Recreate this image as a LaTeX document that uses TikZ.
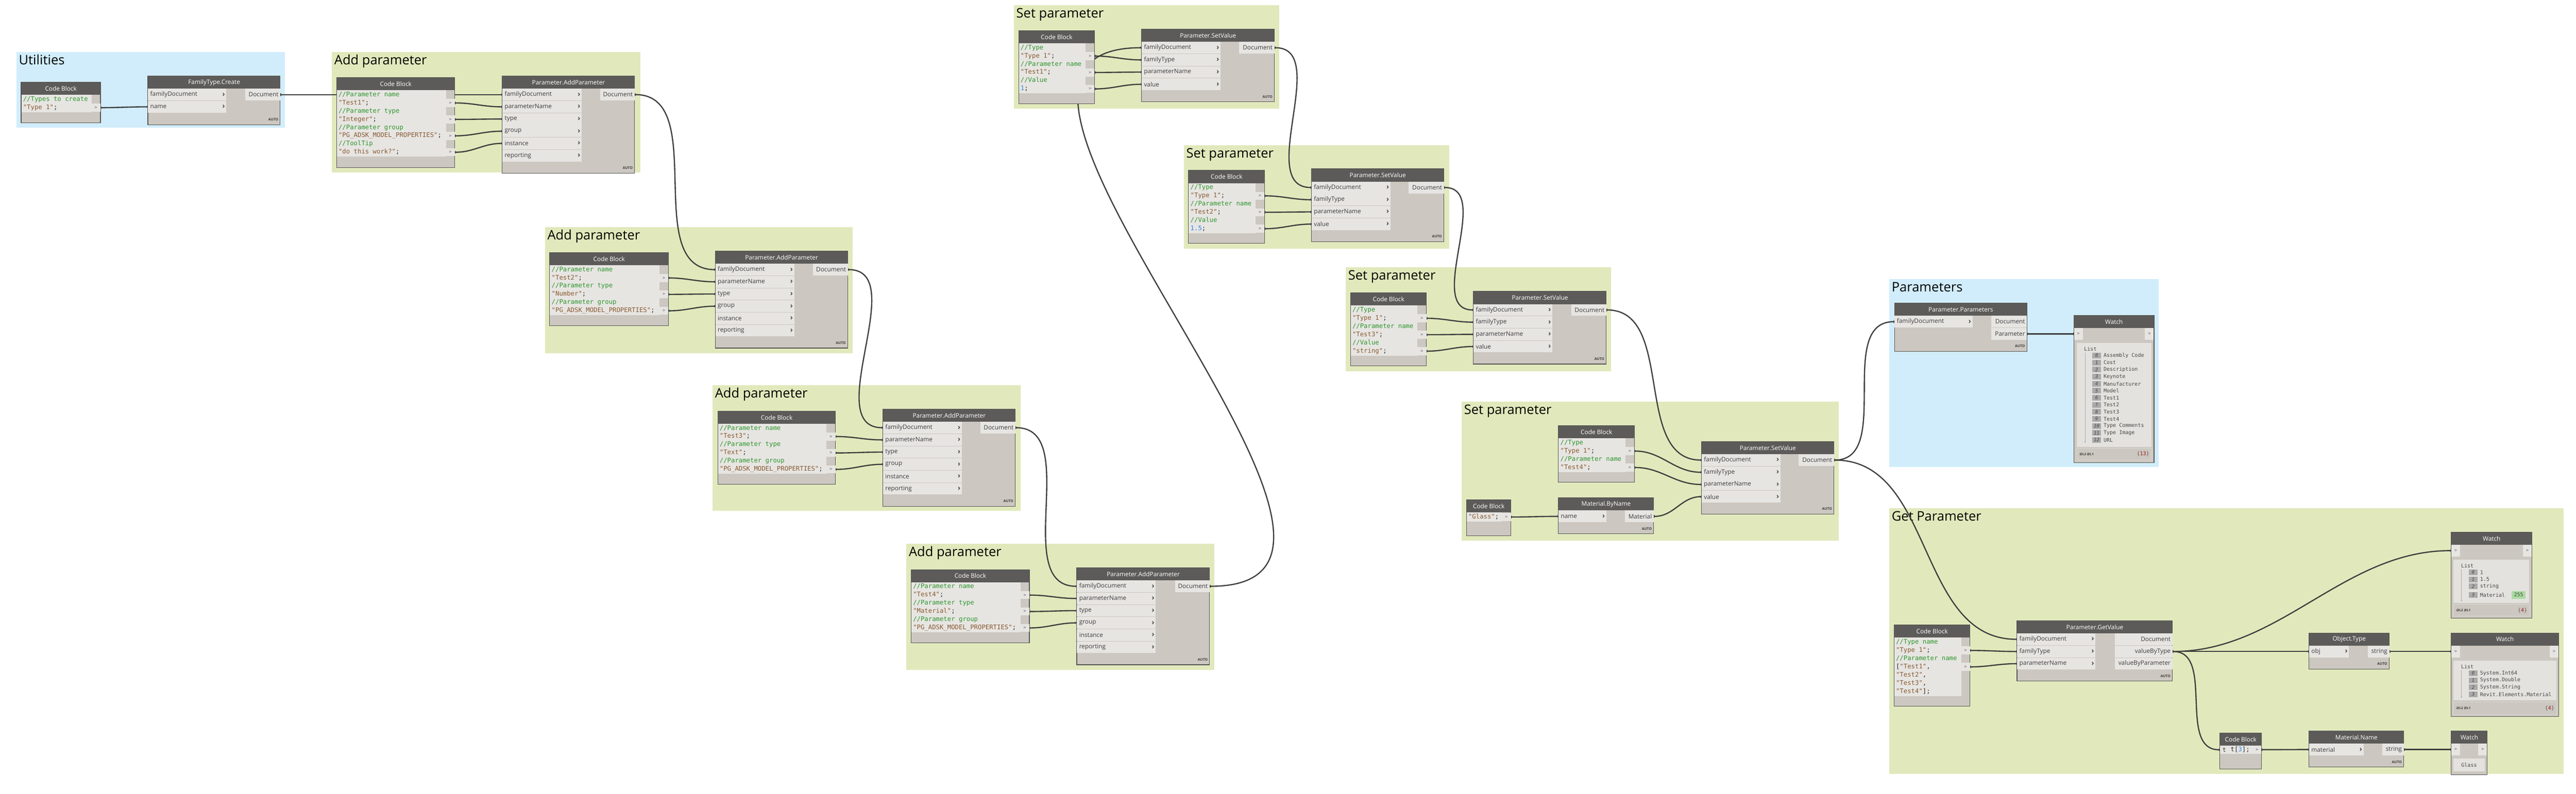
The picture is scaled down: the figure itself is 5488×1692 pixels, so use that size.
\documentclass[tikz,border=0pt]{standalone}
\usepackage{fontspec}
\setmainfont{Open Sans}
\setmonofont{DejaVu Sans Mono}
\usetikzlibrary{arrows.meta}

\definecolor{grpgreen}{RGB}{225,233,188}
\definecolor{grpblue}{RGB}{209,237,252}
\definecolor{headc}{RGB}{93,91,89}
\definecolor{bodyc}{RGB}{204,199,192}
\definecolor{rowc}{RGB}{231,229,226}
\definecolor{edgec}{RGB}{85,85,85}
\definecolor{wirec}{RGB}{62,62,62}
\definecolor{labelc}{RGB}{60,60,60}
\definecolor{chevc}{RGB}{70,70,70}
\definecolor{portc}{RGB}{90,90,90}
\definecolor{punctc}{RGB}{40,40,40}
\definecolor{cmtc}{RGB}{45,150,45}
\definecolor{strc}{RGB}{135,90,50}
\definecolor{numc}{RGB}{45,135,230}
\definecolor{panelc}{RGB}{228,226,222}
\definecolor{footc}{RGB}{204,199,192}
\definecolor{footline}{RGB}{218,215,210}
\definecolor{listc}{RGB}{70,70,70}
\definecolor{idxc}{RGB}{170,170,170}
\definecolor{cntred}{RGB}{170,20,20}
\definecolor{matgreen}{RGB}{170,220,160}

\pgfdeclarelayer{groups}
\pgfdeclarelayer{wires}
\pgfsetlayers{groups,wires,main}

\tikzstyle{groupgreen}=[fill=grpgreen]
\tikzstyle{groupblue}=[fill=grpblue]
\tikzstyle{grouptitle}=[anchor=base west,inner sep=0pt,text=black,font=\fontsize{28}{32}\selectfont]
\tikzstyle{nodehead}=[rectangle,fill=headc,text=white,anchor=north west,minimum height=27pt,inner sep=0pt,font=\fontsize{13}{15}\selectfont]
\tikzstyle{nodeedge}=[draw=edgec,line width=1.2pt]
\tikzstyle{inrow}=[rectangle,fill=rowc,anchor=north west,minimum height=25pt,inner sep=0pt]
\tikzstyle{outrow}=[rectangle,fill=rowc,anchor=north west,minimum height=25pt,inner sep=0pt]
\tikzstyle{inlbl}=[anchor=west,inner sep=5pt,text=labelc,font=\fontsize{13}{15}\selectfont]
\tikzstyle{outlbl}=[anchor=east,inner sep=4pt,text=labelc,font=\fontsize{13}{15}\selectfont]
\tikzstyle{chev}=[anchor=east,inner sep=3pt,text=chevc,font=\bfseries\fontsize{15}{16}\selectfont]
\tikzstyle{autotag}=[anchor=east,inner sep=0pt,text=labelc,font=\bfseries\fontsize{7.5}{8}\selectfont]
\tikzstyle{codetext}=[anchor=west,inner sep=0pt,text height=10pt,text depth=3pt,text=punctc,font=\ttfamily\fontsize{13.5}{16}\selectfont]
\tikzstyle{cport}=[rectangle,fill=rowc,anchor=east,minimum width=19pt,minimum height=17pt,inner sep=0pt,text=portc,font=\ttfamily\fontsize{9}{10}\selectfont]
\tikzstyle{wport}=[rectangle,fill=rowc,minimum width=19pt,minimum height=25pt,inner sep=0pt,text=portc,font=\ttfamily\fontsize{9}{10}\selectfont]
\tikzstyle{wpanel}=[rectangle,fill=panelc,anchor=north west,inner sep=0pt]
\tikzstyle{wfoot}=[rectangle,fill=footc,draw=footline,line width=1pt,anchor=north west,minimum height=25pt,inner sep=0pt]
\tikzstyle{listhead}=[anchor=west,inner sep=0pt,text=listc,font=\ttfamily\fontsize{11}{12}\selectfont]
\tikzstyle{listline}=[draw=idxc,line width=0.8pt]
\tikzstyle{idxbox}=[rectangle,fill=idxc,anchor=west,minimum width=19pt,minimum height=12pt,inner sep=0pt,text=listc,font=\ttfamily\itshape\fontsize{10}{11}\selectfont]
\tikzstyle{listtext}=[anchor=west,inner sep=0pt,text=listc,font=\ttfamily\fontsize{11}{12}\selectfont]
\tikzstyle{levels}=[anchor=west,inner sep=0pt,text=labelc,font=\bfseries\fontsize{7}{8}\selectfont]
\tikzstyle{counttag}=[anchor=east,inner sep=0pt,text=portc,font=\ttfamily\fontsize{11}{12}\selectfont]
\tikzstyle{matbox}=[rectangle,fill=matgreen,anchor=west,minimum width=29pt,minimum height=16pt,inner sep=0pt,text=listc,font=\ttfamily\fontsize{11}{12}\selectfont]
\tikzstyle{wire}=[draw=wirec,line width=2.6pt,out=0,in=180,{Circle[length=6pt]}-{Circle[length=6pt]},shorten <=-3pt,shorten >=-3pt]

\newcommand{\ccmt}[1]{\textcolor{cmtc}{#1}}
\newcommand{\cstr}[1]{\textcolor{strc}{#1}}
\newcommand{\cnum}[1]{\textcolor{numc}{#1}}

% name, x, y, width, height, title
\newcommand{\funcnode}[6]{%
  \fill[bodyc] (#2,#3) rectangle ++(#4,#5);
  \node[nodehead,minimum width=#4pt] (#1) at (#2,#3) {#6};
  \node[autotag] (#1auto) at (#2+#4-4,#3+#5-11) {AUTO};
  \draw[nodeedge] (#2,#3) rectangle ++(#4,#5);
}
% name, x, y, width, height, lines
\newcommand{\codenode}[6]{%
  \fill[bodyc] (#2,#3) rectangle ++(#4,#5);
  \fill[rowc] (#2,#3+27) rectangle ++(#4-19,#6*17.5+2);
  \node[nodehead,minimum width=#4pt] (#1) at (#2,#3) {Code Block};
  \draw[nodeedge] (#2,#3) rectangle ++(#4,#5);
}
% name, x, y, width, height
\newcommand{\watchnode}[5]{%
  \fill[bodyc] (#2,#3) rectangle ++(#4,#5);
  \node[nodehead,minimum width=#4pt] (#1) at (#2,#3) {Watch};
  \node[wport,anchor=north west] (#1in) at (#2,#3+27) {>};
  \node[wport,anchor=north east] (#1out) at (#2+#4,#3+27) {>};
  \draw[nodeedge] (#2,#3) rectangle ++(#4,#5);
}
\newcommand{\inport}[5]{%
  \node[inrow,minimum width=#4pt,label={[inlbl]west:#5},label={[chev]east:›}] (#1) at (#2,#3) {};
}
\newcommand{\outport}[5]{%
  \node[outrow,minimum width=#4pt,label={[outlbl]east:#5}] (#1) at (#2,#3) {};
}
\newcommand{\watchitem}[5]{%
  \node[idxbox] (#1) at (#2,#3) {#4};
  \node[listtext] (#1t) at ([xshift=5pt]#1.east) {#5};
}

\begin{document}
\begin{tikzpicture}[x=1pt,y=-1pt]
\useasboundingbox (0,0) rectangle (5488,1692);

\begin{pgfonlayer}{groups}
\fill[groupblue] (35,111) rectangle (607,272);
\node[grouptitle] (utiltitle) at (40,138) {Utilities};
\fill[groupgreen] (707,111) rectangle (1364,368);
\node[grouptitle] (addtitle1) at (712,138) {Add parameter};
\fill[groupgreen] (1161,484) rectangle (1816,753);
\node[grouptitle] (addtitle2) at (1166,511) {Add parameter};
\fill[groupgreen] (1518,821) rectangle (2174,1089);
\node[grouptitle] (addtitle3) at (1523,848) {Add parameter};
\fill[groupgreen] (1931,1159) rectangle (2587,1428);
\node[grouptitle] (addtitle4) at (1936,1186) {Add parameter};
\fill[groupgreen] (2160,11) rectangle (2725,232);
\node[grouptitle] (settitle1) at (2165,38) {Set parameter};
\fill[groupgreen] (2522,309) rectangle (3087,530);
\node[grouptitle] (settitle2) at (2527,336) {Set parameter};
\fill[groupgreen] (2867,570) rectangle (3432,791);
\node[grouptitle] (settitle3) at (2872,597) {Set parameter};
\fill[groupgreen] (3114,856) rectangle (3917,1153);
\node[grouptitle] (settitle4) at (3119,883) {Set parameter};
\fill[groupblue] (4025,595) rectangle (4599,996);
\node[grouptitle] (partitle) at (4030,622) {Parameters};
\fill[groupgreen] (4025,1083) rectangle (5462,1650);
\node[grouptitle] (gettitle) at (4030,1110) {Get Parameter};
\end{pgfonlayer}

% Utilities
\codenode{cb1}{45}{175}{169}{87}{2}
\node[codetext] (cb1t1) at (49,212) {\ccmt{//Types to create}};
\node[codetext] (cb1t2) at (49,229.5) {\cstr{"Type 1"};};
\node[cport] (cb1p1) at (214,229.5) {>};

\funcnode{ft}{315}{162}{282}{104}{FamilyType.Create}
\inport{ftfd}{315}{189}{167}{familyDocument}
\inport{ftname}{315}{215}{167}{name}
\outport{ftdoc}{522}{189}{75}{Document}

% Add parameter 1
\codenode{cb2}{717}{165}{252}{192}{8}
\node[codetext] (cb2t1) at (721,202) {\ccmt{//Parameter name}};
\node[codetext] (cb2t2) at (721,219.5) {\cstr{"Test1"};};
\node[codetext] (cb2t3) at (721,237) {\ccmt{//Parameter type}};
\node[codetext] (cb2t4) at (721,254.5) {\cstr{"Integer"};};
\node[codetext] (cb2t5) at (721,272) {\ccmt{//Parameter group}};
\node[codetext] (cb2t6) at (721,289.5) {\cstr{"PG\_ADSK\_MODEL\_PROPERTIES"};};
\node[codetext] (cb2t7) at (721,307) {\ccmt{//ToolTip}};
\node[codetext] (cb2t8) at (721,324.5) {\cstr{"do this work?"};};
\node[cport] (cb2p1) at (969,219.5) {>};
\node[cport] (cb2p2) at (969,254.5) {>};
\node[cport] (cb2p3) at (969,289.5) {>};
\node[cport] (cb2p4) at (969,324.5) {>};

\funcnode{ap1}{1070}{162}{282}{207}{Parameter.AddParameter}
\inport{ap1fd}{1070}{189}{169}{familyDocument}
\inport{ap1pn}{1070}{215}{169}{parameterName}
\inport{ap1ty}{1070}{241}{169}{type}
\inport{ap1gr}{1070}{267}{169}{group}
\inport{ap1in}{1070}{293}{169}{instance}
\inport{ap1re}{1070}{319}{169}{reporting}
\outport{ap1doc}{1278}{189}{74}{Document}

% Add parameter 2
\codenode{cb3}{1171}{538}{253}{156}{6}
\node[codetext] (cb3t1) at (1175,575) {\ccmt{//Parameter name}};
\node[codetext] (cb3t2) at (1175,592.5) {\cstr{"Test2"};};
\node[codetext] (cb3t3) at (1175,610) {\ccmt{//Parameter type}};
\node[codetext] (cb3t4) at (1175,627.5) {\cstr{"Number"};};
\node[codetext] (cb3t5) at (1175,645) {\ccmt{//Parameter group}};
\node[codetext] (cb3t6) at (1175,662.5) {\cstr{"PG\_ADSK\_MODEL\_PROPERTIES"};};
\node[cport] (cb3p1) at (1424,592.5) {>};
\node[cport] (cb3p2) at (1424,627.5) {>};
\node[cport] (cb3p3) at (1424,662.5) {>};

\funcnode{ap2}{1524}{535}{282}{207}{Parameter.AddParameter}
\inport{ap2fd}{1524}{562}{168}{familyDocument}
\inport{ap2pn}{1524}{588}{168}{parameterName}
\inport{ap2ty}{1524}{614}{168}{type}
\inport{ap2gr}{1524}{640}{168}{group}
\inport{ap2in}{1524}{666}{168}{instance}
\inport{ap2re}{1524}{692}{168}{reporting}
\outport{ap2doc}{1732}{562}{74}{Document}

% Add parameter 3
\codenode{cb4}{1529}{876}{251}{156}{6}
\node[codetext] (cb4t1) at (1533,913) {\ccmt{//Parameter name}};
\node[codetext] (cb4t2) at (1533,930.5) {\cstr{"Test3"};};
\node[codetext] (cb4t3) at (1533,948) {\ccmt{//Parameter type}};
\node[codetext] (cb4t4) at (1533,965.5) {\cstr{"Text"};};
\node[codetext] (cb4t5) at (1533,983) {\ccmt{//Parameter group}};
\node[codetext] (cb4t6) at (1533,1000.5) {\cstr{"PG\_ADSK\_MODEL\_PROPERTIES"};};
\node[cport] (cb4p1) at (1780,930.5) {>};
\node[cport] (cb4p2) at (1780,965.5) {>};
\node[cport] (cb4p3) at (1780,1000.5) {>};

\funcnode{ap3}{1881}{872}{282}{207}{Parameter.AddParameter}
\inport{ap3fd}{1881}{899}{168}{familyDocument}
\inport{ap3pn}{1881}{925}{168}{parameterName}
\inport{ap3ty}{1881}{951}{168}{type}
\inport{ap3gr}{1881}{977}{168}{group}
\inport{ap3in}{1881}{1003}{168}{instance}
\inport{ap3re}{1881}{1029}{168}{reporting}
\outport{ap3doc}{2089}{899}{74}{Document}

% Add parameter 4
\codenode{cb5}{1941}{1214}{252}{156}{6}
\node[codetext] (cb5t1) at (1945,1251) {\ccmt{//Parameter name}};
\node[codetext] (cb5t2) at (1945,1268.5) {\cstr{"Test4"};};
\node[codetext] (cb5t3) at (1945,1286) {\ccmt{//Parameter type}};
\node[codetext] (cb5t4) at (1945,1303.5) {\cstr{"Material"};};
\node[codetext] (cb5t5) at (1945,1321) {\ccmt{//Parameter group}};
\node[codetext] (cb5t6) at (1945,1338.5) {\cstr{"PG\_ADSK\_MODEL\_PROPERTIES"};};
\node[cport] (cb5p1) at (2193,1268.5) {>};
\node[cport] (cb5p2) at (2193,1303.5) {>};
\node[cport] (cb5p3) at (2193,1338.5) {>};

\funcnode{ap4}{2294}{1210}{283}{207}{Parameter.AddParameter}
\inport{ap4fd}{2294}{1237}{168}{familyDocument}
\inport{ap4pn}{2294}{1263}{168}{parameterName}
\inport{ap4ty}{2294}{1289}{168}{type}
\inport{ap4gr}{2294}{1315}{168}{group}
\inport{ap4in}{2294}{1341}{168}{instance}
\inport{ap4re}{2294}{1367}{168}{reporting}
\outport{ap4doc}{2503}{1237}{74}{Document}

% Set parameter 1
\codenode{cb6}{2170}{65}{162}{156}{6}
\node[codetext] (cb6t1) at (2174,102) {\ccmt{//Type}};
\node[codetext] (cb6t2) at (2174,119.5) {\cstr{"Type 1"};};
\node[codetext] (cb6t3) at (2174,137) {\ccmt{//Parameter name}};
\node[codetext] (cb6t4) at (2174,154.5) {\cstr{"Test1"};};
\node[codetext] (cb6t5) at (2174,172) {\ccmt{//Value}};
\node[codetext] (cb6t6) at (2174,189.5) {\cnum{1};};
\node[cport] (cb6p1) at (2332,119.5) {>};
\node[cport] (cb6p2) at (2332,154.5) {>};
\node[cport] (cb6p3) at (2332,189.5) {>};

\funcnode{sv1}{2432}{62}{283}{155}{Parameter.SetValue}
\inport{sv1fd}{2432}{89}{168}{familyDocument}
\inport{sv1ft}{2432}{115}{168}{familyType}
\inport{sv1pn}{2432}{141}{168}{parameterName}
\inport{sv1va}{2432}{167}{168}{value}
\outport{sv1doc}{2640}{89}{75}{Document}

% Set parameter 2
\codenode{cb7}{2532}{363}{162}{156}{6}
\node[codetext] (cb7t1) at (2536,400) {\ccmt{//Type}};
\node[codetext] (cb7t2) at (2536,417.5) {\cstr{"Type 1"};};
\node[codetext] (cb7t3) at (2536,435) {\ccmt{//Parameter name}};
\node[codetext] (cb7t4) at (2536,452.5) {\cstr{"Test2"};};
\node[codetext] (cb7t5) at (2536,470) {\ccmt{//Value}};
\node[codetext] (cb7t6) at (2536,487.5) {\cnum{1.5};};
\node[cport] (cb7p1) at (2694,417.5) {>};
\node[cport] (cb7p2) at (2694,452.5) {>};
\node[cport] (cb7p3) at (2694,487.5) {>};

\funcnode{sv2}{2794}{360}{282}{155}{Parameter.SetValue}
\inport{sv2fd}{2794}{387}{168}{familyDocument}
\inport{sv2ft}{2794}{413}{168}{familyType}
\inport{sv2pn}{2794}{439}{168}{parameterName}
\inport{sv2va}{2794}{465}{168}{value}
\outport{sv2doc}{3001}{387}{75}{Document}

% Set parameter 3
\codenode{cb8}{2877}{624}{162}{156}{6}
\node[codetext] (cb8t1) at (2881,661) {\ccmt{//Type}};
\node[codetext] (cb8t2) at (2881,678.5) {\cstr{"Type 1"};};
\node[codetext] (cb8t3) at (2881,696) {\ccmt{//Parameter name}};
\node[codetext] (cb8t4) at (2881,713.5) {\cstr{"Test3"};};
\node[codetext] (cb8t5) at (2881,731) {\ccmt{//Value}};
\node[codetext] (cb8t6) at (2881,748.5) {\cstr{"string"};};
\node[cport] (cb8p1) at (3039,678.5) {>};
\node[cport] (cb8p2) at (3039,713.5) {>};
\node[cport] (cb8p3) at (3039,748.5) {>};

\funcnode{sv3}{3139}{621}{283}{155}{Parameter.SetValue}
\inport{sv3fd}{3139}{648}{168}{familyDocument}
\inport{sv3ft}{3139}{674}{168}{familyType}
\inport{sv3pn}{3139}{700}{168}{parameterName}
\inport{sv3va}{3139}{726}{168}{value}
\outport{sv3doc}{3347}{648}{75}{Document}

% Set parameter 4
\codenode{cb9}{3320}{907}{162}{121}{4}
\node[codetext] (cb9t1) at (3324,944) {\ccmt{//Type}};
\node[codetext] (cb9t2) at (3324,961.5) {\cstr{"Type 1"};};
\node[codetext] (cb9t3) at (3324,979) {\ccmt{//Parameter name}};
\node[codetext] (cb9t4) at (3324,996.5) {\cstr{"Test4"};};
\node[cport] (cb9p1) at (3482,961.5) {>};
\node[cport] (cb9p2) at (3482,996.5) {>};

\codenode{cb10}{3124}{1065}{95}{77}{1}
\node[codetext] (cb10t1) at (3128,1102) {\cstr{"Glass"};};
\node[cport] (cb10p1) at (3219,1102) {>};

\funcnode{mbn}{3320}{1061}{203}{77}{Material.ByName}
\inport{mbnname}{3320}{1088}{102}{name}
\outport{mbnmat}{3462}{1088}{61}{Material}

\funcnode{sv4}{3625}{941}{282}{155}{Parameter.SetValue}
\inport{sv4fd}{3625}{968}{168}{familyDocument}
\inport{sv4ft}{3625}{994}{168}{familyType}
\inport{sv4pn}{3625}{1020}{168}{parameterName}
\inport{sv4va}{3625}{1046}{168}{value}
\outport{sv4doc}{3832}{968}{75}{Document}

% Parameters
\funcnode{pp}{4036}{646}{282}{103}{Parameter.Parameters}
\inport{ppfd}{4036}{673}{166}{familyDocument}
\outport{ppdoc}{4242}{673}{76}{Document}
\outport{pppar}{4242}{699}{76}{Parameter}

\watchnode{w1}{4418}{672}{171}{314}
\node[wpanel,minimum width=159pt,minimum height=221pt] (w1panel) at (4424,731) {};
\node[listhead] (w1head) at (4440,744) {List};
\draw[listline] (4442,752) -- (4442,942);
\fill[idxc] (4442,942) circle (1.6pt);
\watchitem{w1i0}{4457}{758}{0}{Assembly Code}
\watchitem{w1i1}{4457}{773}{1}{Cost}
\watchitem{w1i2}{4457}{788}{2}{Description}
\watchitem{w1i3}{4457}{803}{3}{Keynote}
\watchitem{w1i4}{4457}{818}{4}{Manufacturer}
\watchitem{w1i5}{4457}{833}{5}{Model}
\watchitem{w1i6}{4457}{848}{6}{Test1}
\watchitem{w1i7}{4457}{863}{7}{Test2}
\watchitem{w1i8}{4457}{878}{8}{Test3}
\watchitem{w1i9}{4457}{893}{9}{Test4}
\watchitem{w1i10}{4457}{908}{10}{Type Comments}
\watchitem{w1i11}{4457}{923}{11}{Type Image}
\watchitem{w1i12}{4457}{938}{12}{URL}
\node[wfoot,minimum width=159pt] (w1foot) at (4424,955) {};
\node[levels] (w1lev) at ([xshift=6pt]w1foot.west) {@L2 @L1};
\node[counttag] (w1cnt) at ([xshift=-5pt]w1foot.east) {\{\textcolor{cntred}{13}\}};

% Get Parameter
\codenode{cb11}{4035}{1332}{162}{173}{7}
\node[codetext] (cb11t1) at (4039,1369) {\ccmt{//Type name}};
\node[codetext] (cb11t2) at (4039,1386.5) {\cstr{"Type 1"};};
\node[codetext] (cb11t3) at (4039,1404) {\ccmt{//Parameter name}};
\node[codetext] (cb11t4) at (4039,1421.5) {[\cstr{"Test1"},};
\node[codetext] (cb11t5) at (4039,1439) {\cstr{"Test2"},};
\node[codetext] (cb11t6) at (4039,1456.5) {\cstr{"Test3"},};
\node[codetext] (cb11t7) at (4039,1474) {\cstr{"Test4"}];};
\node[cport] (cb11p1) at (4197,1386.5) {>};
\node[cport] (cb11p2) at (4197,1421.5) {>};

\funcnode{gv}{4297}{1323}{331}{129}{Parameter.GetValue}
\inport{gvfd}{4297}{1350}{167}{familyDocument}
\inport{gvft}{4297}{1376}{167}{familyType}
\inport{gvpn}{4297}{1402}{167}{parameterName}
\outport{gvdoc}{4505}{1350}{123}{Document}
\outport{gvvt}{4505}{1376}{123}{valueByType}
\outport{gvvp}{4505}{1402}{123}{valueByParameter}

\funcnode{ot}{4919}{1349}{171}{77}{Object.Type}
\inport{otobj}{4919}{1376}{85}{obj}
\outport{otstr}{5044}{1376}{46}{string}

\watchnode{w2}{5222}{1134}{172}{184}
\node[wpanel,minimum width=161pt,minimum height=92pt] (w2panel) at (5227,1193) {};
\node[listhead] (w2head) at (5243,1206) {List};
\draw[listline] (5244,1213) -- (5244,1280);
\fill[idxc] (5244,1280) circle (1.6pt);
\watchitem{w2i0}{5259}{1220}{0}{1}
\watchitem{w2i1}{5259}{1235}{1}{1.5}
\watchitem{w2i2}{5259}{1250}{2}{string}
\watchitem{w2i3}{5259}{1268}{3}{Material}
\node[matbox] (w2swatch) at (5351,1268) {255};
\node[wfoot,minimum width=161pt] (w2foot) at (5227,1288) {};
\node[levels] (w2lev) at ([xshift=6pt]w2foot.west) {@L2 @L1};
\node[counttag] (w2cnt) at ([xshift=-5pt]w2foot.east) {\{\textcolor{cntred}{4}\}};

\watchnode{w3}{5222}{1349}{229}{178}
\node[wpanel,minimum width=219pt,minimum height=85pt] (w3panel) at (5227,1408) {};
\node[listhead] (w3head) at (5243,1421) {List};
\draw[listline] (5244,1428) -- (5244,1486);
\fill[idxc] (5244,1486) circle (1.6pt);
\watchitem{w3i0}{5259}{1435}{0}{System.Int64}
\watchitem{w3i1}{5259}{1450}{1}{System.Double}
\watchitem{w3i2}{5259}{1465}{2}{System.String}
\watchitem{w3i3}{5259}{1480}{3}{Revit.Elements.Material}
\node[wfoot,minimum width=219pt,minimum height=26pt] (w3foot) at (5227,1496) {};
\node[levels] (w3lev) at ([xshift=6pt]w3foot.west) {@L2 @L1};
\node[counttag] (w3cnt) at ([xshift=-5pt]w3foot.east) {\{\textcolor{cntred}{4}\}};

\fill[bodyc] (4729,1562) rectangle ++(89,77);
\fill[rowc] (4748,1589) rectangle ++(51,18);
\node[nodehead,minimum width=89pt] (cb12) at (4729,1562) {Code Block};
\node[wport,anchor=north west,minimum height=18pt,text=labelc,font=\ttfamily\fontsize{13}{14}\selectfont] (cb12in) at (4729,1589) {t};
\node[codetext] (cb12t1) at (4752,1598) {t[\cnum{3}];};
\node[cport] (cb12out) at (4818,1598) {>};
\draw[nodeedge] (4729,1562) rectangle ++(89,77);

\funcnode{mn}{4919}{1558}{202}{77}{Material.Name}
\inport{mnmat}{4919}{1585}{116}{material}
\outport{mnstr}{5075}{1585}{46}{string}

\watchnode{w4}{5222}{1558}{77}{93}
\node[wpanel,minimum width=66pt,minimum height=27pt,text=listc,font=\ttfamily\fontsize{11}{12}\selectfont] (w4panel) at (5227,1617) {Glass};

\begin{pgfonlayer}{wires}
\draw[wire] (cb1p1.east) to (ftname.west);
\draw[wire] (ftdoc.east) to (ap1fd.west);
\draw[wire] (cb2p1.east) to (ap1pn.west);
\draw[wire] (cb2p2.east) to (ap1ty.west);
\draw[wire] (cb2p3.east) to (ap1gr.west);
\draw[wire] (cb2p4.east) to (ap1in.west);
\draw[wire] (ap1doc.east) to (ap2fd.west);
\draw[wire] (cb3p1.east) to (ap2pn.west);
\draw[wire] (cb3p2.east) to (ap2ty.west);
\draw[wire] (cb3p3.east) to (ap2gr.west);
\draw[wire] (ap2doc.east) to (ap3fd.west);
\draw[wire] (cb4p1.east) to (ap3pn.west);
\draw[wire] (cb4p2.east) to (ap3ty.west);
\draw[wire] (cb4p3.east) to (ap3gr.west);
\draw[wire] (ap3doc.east) to (ap4fd.west);
\draw[wire] (cb5p1.east) to (ap4pn.west);
\draw[wire] (cb5p2.east) to (ap4ty.west);
\draw[wire] (cb5p3.east) to (ap4gr.west);
\draw[wire] (ap4doc.east) .. controls +(520,0) and +(-520,0) .. (sv1fd.west);
\draw[wire] (cb6p1.east) to (sv1ft.west);
\draw[wire] (cb6p2.east) to (sv1pn.west);
\draw[wire] (cb6p3.east) to (sv1va.west);
\draw[wire] (sv1doc.east) to (sv2fd.west);
\draw[wire] (cb7p1.east) to (sv2ft.west);
\draw[wire] (cb7p2.east) to (sv2pn.west);
\draw[wire] (cb7p3.east) to (sv2va.west);
\draw[wire] (sv2doc.east) to (sv3fd.west);
\draw[wire] (cb8p1.east) to (sv3ft.west);
\draw[wire] (cb8p2.east) to (sv3pn.west);
\draw[wire] (cb8p3.east) to (sv3va.west);
\draw[wire] (sv3doc.east) to (sv4fd.west);
\draw[wire] (cb9p1.east) to (sv4ft.west);
\draw[wire] (cb9p2.east) to (sv4pn.west);
\draw[wire] (cb10p1.east) to (mbnname.west);
\draw[wire] (mbnmat.east) to (sv4va.west);
\draw[wire] (sv4doc.east) to (ppfd.west);
\draw[wire] (sv4doc.east) .. controls +(214,0) and +(-214,0) .. (gvfd.west);
\draw[wire] (pppar.east) to (w1in.west);
\draw[wire] (cb11p1.east) to (gvft.west);
\draw[wire] (cb11p2.east) to (gvpn.west);
\draw[wire] (gvvt.east) .. controls +(230,0) and +(-230,0) .. (w2in.west);
\draw[wire] (gvvt.east) to (otobj.west);
\draw[wire] (gvvt.east) to (cb12in.west);
\draw[wire] (otstr.east) to (w3in.west);
\draw[wire] (cb12out.east) to (mnmat.west);
\draw[wire] (mnstr.east) to (w4in.west);
\end{pgfonlayer}

\end{tikzpicture}
\end{document}
